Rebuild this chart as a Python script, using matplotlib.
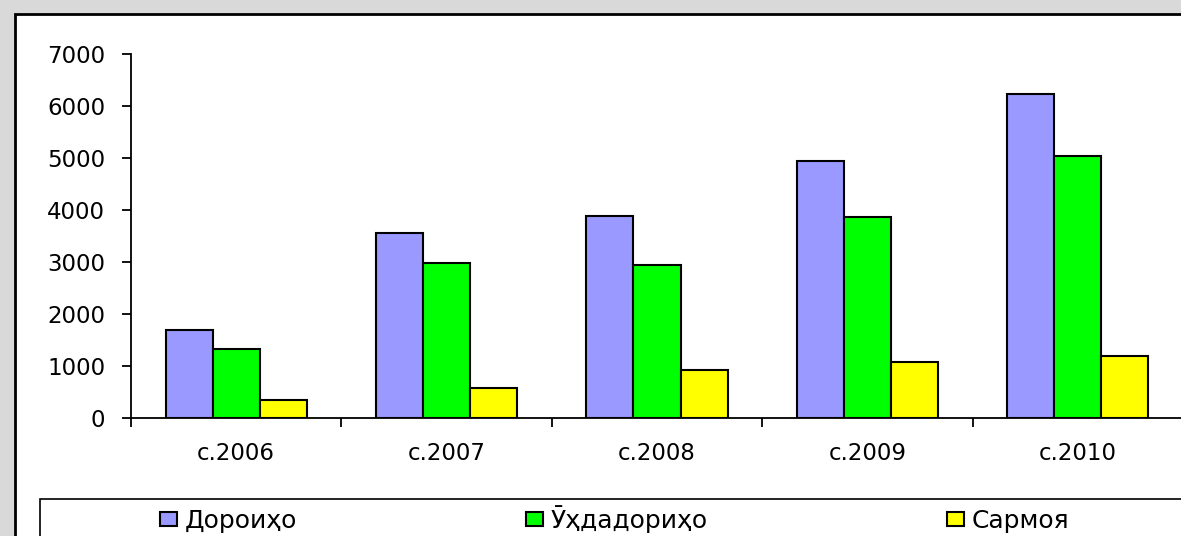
import matplotlib
matplotlib.use("Agg")
import matplotlib.pyplot as plt
from matplotlib.patches import Rectangle
import numpy as np

years = ["с.2006", "с.2007", "с.2008", "с.2009", "с.2010"]
series_names = ["Дороиҳо", "Ӯҳдадориҳо", "Сармоя"]
dorioho = [1700, 3560, 3890, 4940, 6230]
uhdadorioho = [1330, 2980, 2940, 3870, 5040]
sarmoya = [350, 580, 920, 1080, 1190]

BLUE = "#9999FF"
GREEN = "#00FF00"
YELLOW = "#FFFF00"
GREY = "#d9d9d9"

FONT = ["DejaVu Sans"]

fig = plt.figure(figsize=(11.81, 5.36), dpi=100)
fig.patch.set_facecolor(GREY)

# white chart panel, runs off the right and bottom edge
fig.patches.append(Rectangle((15 / 1181, -0.05), 1.1, 1 - 14 / 536 + 0.05,
                             transform=fig.transFigure, facecolor="white",
                             edgecolor="black", linewidth=2, zorder=0))
# legend frame
fig.patches.append(Rectangle((40 / 1181, -0.05), 1.1, 1 - 499 / 536 + 0.05,
                             transform=fig.transFigure, facecolor="white",
                             edgecolor="black", linewidth=1.2, zorder=1))

ax = fig.add_axes([131 / 1181, 1 - 418 / 536, (1183 - 131) / 1181, (418 - 54) / 536])
ax.set_facecolor("none")
ax.set_zorder(2)

x = np.arange(len(years))
w = 0.224
bars = []
for i, (vals, col) in enumerate(zip([dorioho, uhdadorioho, sarmoya], [BLUE, GREEN, YELLOW])):
    b = ax.bar(x + (i - 1) * w, vals, w, color=col, edgecolor="black",
               linewidth=1.5, label=series_names[i], zorder=3)
    bars.append(b)

ax.set_xlim(-0.5, 4.5)
ax.set_ylim(0, 7000)
ax.set_yticks(range(0, 7001, 1000))
# category borders as major ticks, labels sit on minor ticks at centres
ax.set_xticks(np.append(x - 0.5, 4.5))
ax.set_xticklabels([])
ax.set_xticks(x, minor=True)
ax.set_xticklabels(years, minor=True, fontsize=16.5, family=FONT)
ax.tick_params(axis="x", which="minor", length=0, pad=17)
ax.tick_params(axis="x", which="major", direction="out", length=6.5, width=1.3)
ax.tick_params(axis="y", direction="out", length=6.5, width=1.3, pad=12)
for lbl in ax.get_yticklabels():
    lbl.set_fontsize(16.5)
    lbl.set_family(FONT)

for s in ["top", "right"]:
    ax.spines[s].set_visible(False)
ax.spines["left"].set_linewidth(1.3)
ax.spines["bottom"].set_linewidth(1.3)

# one legend entry per series, placed like the original (bottoms aligned)
leg_x = [160 / 1181, 526 / 1181, 947 / 1181]
for b, name, lx in zip(bars, series_names, leg_x):
    leg = fig.legend(handles=[b], labels=[name], loc="lower left",
                     bbox_to_anchor=(lx, 1 - 533 / 536), frameon=False,
                     handlelength=0.68, handleheight=0.48, handletextpad=0.32,
                     borderpad=0, borderaxespad=0,
                     prop={"family": FONT, "size": 18})
    leg.set_zorder(5)

fig.savefig("out.png", dpi=100, facecolor=fig.get_facecolor())
